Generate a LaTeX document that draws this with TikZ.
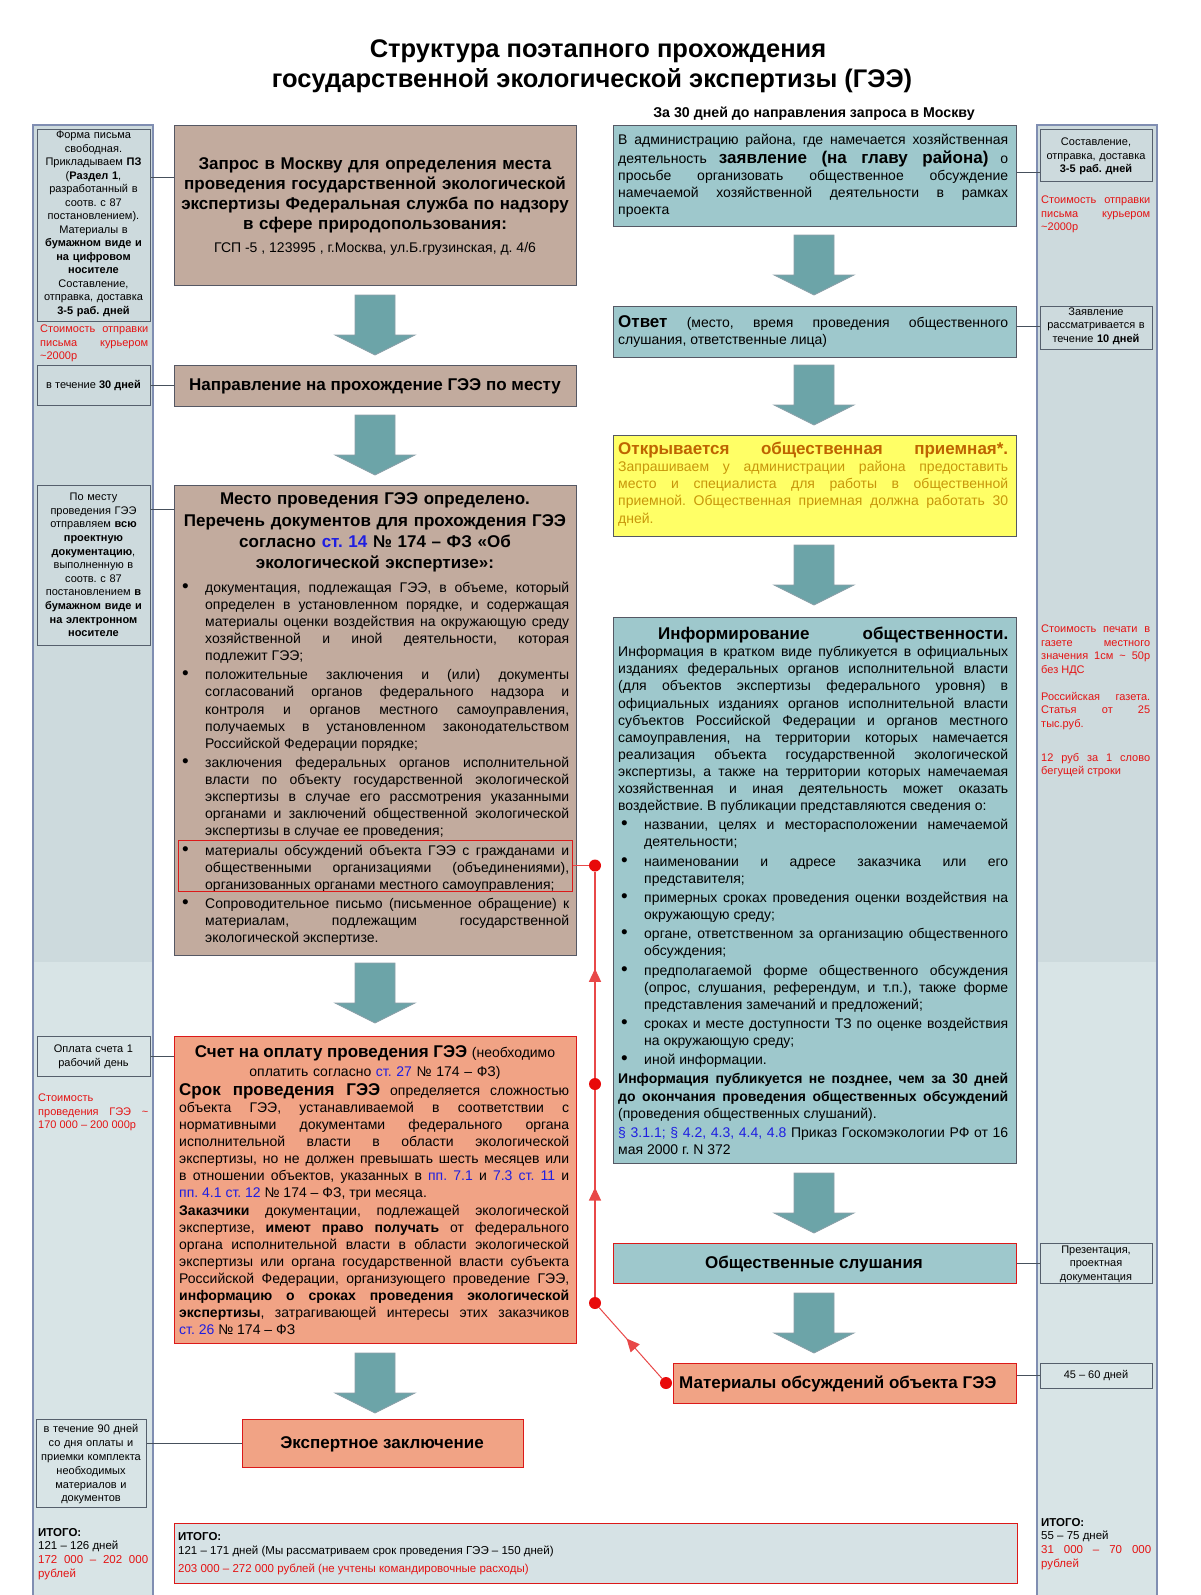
\documentclass[tikz,border=0pt]{standalone}
\usepackage{fontspec}
\setmainfont{Liberation Sans}
\usetikzlibrary{arrows.meta,decorations.markings}
\setlength{\parindent}{0pt}
\setlength{\parskip}{0pt}
\frenchspacing

\definecolor{brownC}{RGB}{194,171,158}
\definecolor{tealC}{RGB}{158,200,204}
\definecolor{salmonC}{RGB}{241,163,133}
\definecolor{yellowC}{RGB}{255,255,102}
\definecolor{sideAC}{RGB}{205,218,221}
\definecolor{sideBC}{RGB}{216,228,230}
\definecolor{sideEdgeC}{RGB}{128,142,178}
\definecolor{sboxEdgeC}{RGB}{85,95,108}
\definecolor{mainEdgeC}{RGB}{85,88,100}
\definecolor{redEdgeC}{RGB}{220,25,25}
\definecolor{arrFillC}{RGB}{108,164,168}
\definecolor{arrEdgeC}{RGB}{140,160,168}
\definecolor{connC}{RGB}{70,80,92}
\definecolor{rLineC}{RGB}{232,72,72}
\definecolor{rDotC}{RGB}{232,10,10}
\definecolor{costC}{RGB}{228,20,20}
\definecolor{linkC}{RGB}{30,30,225}
\definecolor{yTitleC}{RGB}{190,100,0}
\definecolor{yTextC}{RGB}{200,150,10}
\definecolor{itogoC}{RGB}{214,226,229}

\newcommand\fsbody{\fontsize{14}{17.1}\selectfont}
\newcommand\fsbig{\fontsize{17}{20}\selectfont}
\newcommand\fssm{\fontsize{11}{13.5}\selectfont}
\newcommand\lnk[1]{\textcolor{linkC}{#1}}
\newcommand\bigb[1]{{\fsbig\bfseries #1}}
\newcommand\bitm{\par\noindent\hangindent=26pt\hangafter=1\makebox[26pt][l]{\hspace{3pt}\scalebox{1.35}{\textbullet}}}
\newcommand\blockarr[2]{\path[bigarr] ({#1-20},{#2}) -- ({#1+20},{#2}) -- ({#1+20},{#2+40}) -- ({#1+40},{#2+40}) -- ({#1},{#2+60}) -- ({#1-40},{#2+40}) -- ({#1-20},{#2+40}) -- cycle;}

\tikzset{
  mainbx/.style={rectangle, inner sep=0pt, anchor=north west, line width=1pt},
  brownbx/.style={mainbx, fill=brownC, draw=mainEdgeC},
  tealbx/.style={mainbx, fill=tealC, draw=mainEdgeC},
  tealredbx/.style={mainbx, fill=tealC, draw=redEdgeC},
  salmonbx/.style={mainbx, fill=salmonC, draw=redEdgeC},
  yellowbx/.style={mainbx, fill=yellowC, draw=mainEdgeC},
  itogobx/.style={mainbx, fill=itogoC, draw=redEdgeC},
  sidebx/.style={rectangle, inner sep=0pt, anchor=north west, draw=sboxEdgeC, line width=0.8pt},
  sidetxt/.style={anchor=north, inner sep=0pt, align=center, font=\fssm},
  costtxt/.style={anchor=north west, inner sep=0pt, align=justify, font=\fssm, text=costC},
  bodytxt/.style={anchor=north west, inner sep=0pt, align=justify, font=\fsbody},
  centtxt/.style={anchor=north, inner sep=0pt, align=center},
  onel/.style={inner sep=0pt},
  connln/.style={draw=connC, line width=0.9pt},
  bigarr/.style={fill=arrFillC, draw=arrEdgeC, line width=0.8pt},
  rdot/.style={circle, fill=rDotC, inner sep=0pt, minimum size=12pt},
  rline/.style={draw=rLineC, line width=1.3pt},
  midarr/.style={postaction={decorate}, decoration={markings, mark=at position 0.5 with {\arrow[xshift=6pt]{Triangle[length=13pt,width=12pt]}}}}
}

\begin{document}
\begin{tikzpicture}[x=1pt,y=-1pt]
\useasboundingbox (0,0) rectangle (1200,1595);

% ---------- title ----------
\node[onel, anchor=base, font=\fontsize{25.5}{28}\selectfont\bfseries] (title1) at (598,57.5) {Структура поэтапного прохождения};
\node[onel, anchor=base, font=\fontsize{25.5}{28}\selectfont\bfseries] (title2) at (592,88) {государственной экологической экспертизы (ГЭЭ)};
\node[onel, anchor=base, font=\fontsize{14.2}{17}\selectfont\bfseries] (subt) at (814,117.5) {За 30 дней до направления запроса в Москву};

% ---------- side bars ----------
\fill[sideBC] (33,125) rectangle (153,1595);
\fill[sideAC] (33,125) rectangle (153,962);
\draw[sideEdgeC, line width=1.2pt] (33,1595) -- (33,125) -- (153,125) -- (153,1595);
\fill[sideBC] (1037,125) rectangle (1157,1595);
\fill[sideAC] (1037,125) rectangle (1157,962);
\draw[sideEdgeC, line width=1.2pt] (1037,1595) -- (1037,125) -- (1157,125) -- (1157,1595);

% ---------- left side boxes ----------
\node[sidebx, minimum width=113pt, minimum height=192pt] (L1) at (37,129) {};
\node[sidetxt, text width=113pt] (L1t) at (93.5,129.2) {\strut Форма письма\\ свободная.\\ Прикладываем \textbf{ПЗ}\\ (\textbf{Раздел 1},\\ разработанный в\\ соотв. с 87\\ постановлением).\\ Материалы в\\ \textbf{бумажном виде и}\\ \textbf{на цифровом}\\ \textbf{носителе}\\ Составление,\\ отправка, доставка\\ \textbf{3-5 раб. дней}};
\node[costtxt, text width=108pt] (L1c) at (40,323.2) {\strut Стоимость отправки\linebreak письма курьером\linebreak \textasciitilde2000р};

\node[sidebx, minimum width=113pt, minimum height=40pt] (L2) at (37,365) {};
\node[onel, anchor=base, font=\fssm] (L2t) at (93.5,388.6) {в течение \textbf{30 дней}};

\node[sidebx, minimum width=113pt, minimum height=160pt] (L3) at (37,485) {};
\node[sidetxt, text width=113pt, font=\fontsize{11}{13.6}\selectfont] (L3t) at (93.5,491) {\strut По месту\\ проведения ГЭЭ\\ отправляем \textbf{всю}\\ \textbf{проектную}\\ \textbf{документацию},\\ выполненную в\\ соотв. с 87\\ постановлением \textbf{в}\\ \textbf{бумажном виде и}\\ \textbf{на электронном}\\ \textbf{носителе}};

\node[sidebx, minimum width=113pt, minimum height=40pt] (L4) at (37,1036) {};
\node[sidetxt, text width=113pt] (L4t) at (93.5,1043.2) {\strut Оплата счета 1\\ рабочий день};
\node[costtxt, text width=110pt] (L4c) at (38,1092) {\strut Стоимость\newline проведения ГЭЭ \textasciitilde\linebreak 170 000 – 200 000р};

\node[sidebx, minimum width=110pt, minimum height=88pt] (L5) at (36,1419) {};
\node[sidetxt, text width=110pt, font=\fontsize{11}{13.8}\selectfont] (L5t) at (91,1423) {\strut в течение 90 дней\\ со дня оплаты и\\ приемки комплекта\\ необходимых\\ материалов и\\ документов};

\node[anchor=north west, inner sep=0pt, align=justify, text width=110pt, font=\fontsize{11.5}{13.7}\selectfont] (L6) at (38,1526.2) {\strut\textbf{ИТОГО:}\par 121 – 126 дней\par \textcolor{costC}{172 000 – 202 000\linebreak рублей}\par};

% ---------- right side boxes ----------
\node[sidebx, minimum width=112pt, minimum height=52pt] (R1) at (1040,129) {};
\node[sidetxt, text width=112pt] (R1t) at (1096,136.2) {\strut Составление,\\ отправка, доставка\\ \textbf{3-5 раб. дней}};
\node[costtxt, text width=109pt] (R1c) at (1041,194) {\strut Стоимость отправки\linebreak письма курьером\linebreak \textasciitilde2000р};

\node[sidebx, minimum width=112pt, minimum height=43pt] (R2) at (1040,306) {};
\node[sidetxt, text width=112pt] (R2t) at (1096,305.4) {\strut Заявление\\ рассматривается в\\ течение \textbf{10 дней}};

\node[costtxt, text width=109pt] (R2c) at (1041,623.2) {\strut Стоимость печати в\linebreak газете местного\linebreak значения 1см \textasciitilde{} 50р\linebreak без НДС\par\vspace{13.5pt}Российская газета.\linebreak Статья от 25\linebreak тыс.руб.\par\vspace{20.5pt}12 руб за 1 слово\linebreak бегущей строки\par};

\node[sidebx, minimum width=112pt, minimum height=40pt] (R3) at (1040,1243) {};
\node[sidetxt, text width=112pt] (R3t) at (1096,1243.4) {\strut Презентация,\\ проектная\\ документация};

\node[sidebx, minimum width=112pt, minimum height=25pt] (R4) at (1040,1363) {};
\node[onel, anchor=base, font=\fssm] (R4t) at (1096,1378.6) {45 – 60 дней};

\node[anchor=north west, inner sep=0pt, align=justify, text width=110pt, font=\fontsize{11.5}{13.7}\selectfont] (R6) at (1041,1516.2) {\strut\textbf{ИТОГО:}\par 55 – 75 дней\par \textcolor{costC}{31 000 – 70 000\linebreak рублей}\par};

% ---------- left main column ----------
\node[brownbx, minimum width=402pt, minimum height=160pt] (A) at (174,125) {};
\node[centtxt, text width=400pt, font=\fontsize{17}{20}\selectfont\bfseries] (At) at (375,155.6) {\strut Запрос в Москву для определения места\\ проведения государственной экологической\\ экспертизы Федеральная служба по надзору\\ в сфере природопользования:};
\node[onel, anchor=base, font=\fsbody] (Aa) at (375,252.6) {ГСП -5 , 123995 , г.Москва, ул.Б.грузинская, д. 4/6};

\node[brownbx, minimum width=402pt, minimum height=41pt] (B) at (174,365) {};
\node[onel, anchor=base, font=\fsbig\bfseries] (Bt) at (375,390.6) {Направление на прохождение ГЭЭ по месту};

\node[brownbx, minimum width=402pt, minimum height=470pt] (C) at (174,485) {};
\node[centtxt, text width=400pt, font=\fontsize{17}{21.3}\selectfont\bfseries] (Ct) at (375,489.7) {\strut Место проведения ГЭЭ определено.\\ Перечень документов для прохождения ГЭЭ\\ согласно \lnk{ст. 14} № 174 – ФЗ «Об\\ экологической экспертизе»:};
\node[bodytxt, text width=390pt] (Cb) at (179,572.6) {\setlength{\parskip}{2.2pt}%
\bitm\strut документация, подлежащая ГЭЭ, в объеме, который\linebreak определен в установленном порядке, и содержащая\linebreak материалы оценки воздействия на окружающую среду\linebreak хозяйственной и иной деятельности, которая\linebreak подлежит ГЭЭ;
\bitm положительные заключения и (или) документы\linebreak согласований органов федерального надзора и\linebreak контроля и органов местного самоуправления,\linebreak получаемых в установленном законодательством\linebreak Российской Федерации порядке;
\bitm заключения федеральных органов исполнительной\linebreak власти по объекту государственной экологической\linebreak экспертизы в случае его рассмотрения указанными\linebreak органами и заключений общественной экологической\linebreak экспертизы в случае ее проведения;
\bitm материалы обсуждений объекта ГЭЭ с гражданами и\linebreak общественными организациями (объединениями),\linebreak организованных органами местного самоуправления;
\bitm Сопроводительное письмо (письменное обращение) к\linebreak материалам, подлежащим государственной\linebreak экологической экспертизе.\par};
\node[draw=redEdgeC, line width=1pt, inner sep=0pt, anchor=north west, minimum width=394pt, minimum height=51pt] (C4box) at (178,840) {};

\node[salmonbx, minimum width=402pt, minimum height=307pt] (D) at (174,1036) {};
\node[centtxt, text width=395pt, font=\fontsize{14}{19}\selectfont] (Dt1) at (375,1044.3) {\strut{\fsbig\bfseries Счет на оплату проведения ГЭЭ} (необходимо\\ оплатить согласно \lnk{ст. 27} № 174 – ФЗ)};
\node[bodytxt, text width=390pt] (Dt2) at (179,1083.2) {\strut\bigb{Срок проведения ГЭЭ} определяется сложностью\linebreak объекта ГЭЭ, устанавливаемой в соответствии с\linebreak нормативными документами федерального органа\linebreak исполнительной власти в области экологической\linebreak экспертизы, но не должен превышать шесть месяцев или\linebreak в отношении объектов, указанных в \lnk{пп. 7.1} и \lnk{7.3 ст. 11} и\linebreak \lnk{пп. 4.1 ст. 12} № 174 – ФЗ, три месяца.\par
\textbf{Заказчики} документации, подлежащей экологической\linebreak экспертизе, \textbf{имеют право получать} от федерального\linebreak органа исполнительной власти в области экологической\linebreak экспертизы или органа государственной власти субъекта\linebreak Российской Федерации, организующего проведение ГЭЭ,\linebreak \textbf{информацию о сроках проведения экологической}\linebreak \textbf{экспертизы}, затрагивающей интересы этих заказчиков\linebreak \lnk{ст. 26} № 174 – ФЗ\par};

\node[salmonbx, minimum width=281pt, minimum height=48pt] (X) at (242,1419) {};
\node[onel, anchor=base, font=\fsbig\bfseries] (Xt) at (382,1448.6) {Экспертное заключение};

% ---------- right main column ----------
\node[tealbx, minimum width=403pt, minimum height=101pt] (E) at (613,125) {};
\node[bodytxt, text width=390pt] (Et) at (618,132.6) {\strut В администрацию района, где намечается хозяйственная\linebreak деятельность \bigb{заявление (на главу района)} о\linebreak просьбе организовать общественное обсуждение\linebreak намечаемой хозяйственной деятельности в рамках\linebreak проекта\par};

\node[tealbx, minimum width=403pt, minimum height=51pt] (F) at (613,306) {};
\node[bodytxt, text width=390pt] (Ft) at (618,315) {\strut\bigb{Ответ} (место, время проведения общественного\linebreak слушания, ответственные лица)\par};

\node[yellowbx, minimum width=403pt, minimum height=101pt] (Y) at (613,435) {};
\node[bodytxt, text width=390pt, text=yTextC] (Yt) at (618,442) {\strut{\fsbig\bfseries\color{yTitleC}Открывается общественная приемная*.}\linebreak Запрашиваем у администрации района предоставить\linebreak место и специалиста для работы в общественной\linebreak приемной. Общественная приемная должна работать 30\linebreak дней.\par};

\node[tealbx, minimum width=403pt, minimum height=546pt] (G) at (613,617) {};
\node[bodytxt, text width=390pt] (Gt) at (618,627) {\setlength{\parskip}{2.1pt}%
\strut\hspace*{40pt}\bigb{Информирование общественности.}\linebreak Информация в кратком виде публикуется в официальных\linebreak изданиях федеральных органов исполнительной власти\linebreak (для объектов экспертизы федерального уровня) в\linebreak официальных изданиях органов исполнительной власти\linebreak субъектов Российской Федерации и органов местного\linebreak самоуправления, на территории которых намечается\linebreak реализация объекта государственной экологической\linebreak экспертизы, а также на территории которых намечаемая\linebreak хозяйственная и иная деятельность может оказать\linebreak воздействие. В публикации представляются сведения о:
\bitm названии, целях и месторасположении намечаемой\linebreak деятельности;
\bitm наименовании и адресе заказчика или его\linebreak представителя;
\bitm примерных сроках проведения оценки воздействия на\linebreak окружающую среду;
\bitm органе, ответственном за организацию общественного\linebreak обсуждения;
\bitm предполагаемой форме общественного обсуждения\linebreak (опрос, слушания, референдум, и т.п.), также форме\linebreak представления замечаний и предложений;
\bitm сроках и месте доступности ТЗ по оценке воздействия\linebreak на окружающую среду;
\bitm иной информации.
\par\noindent\textbf{Информация публикуется не позднее, чем за 30 дней}\linebreak \textbf{до окончания проведения общественных обсуждений}\linebreak (проведения общественных слушаний).
\par\noindent\lnk{§ 3.1.1; § 4.2, 4.3, 4.4, 4.8} Приказ Госкомэкологии РФ от 16\linebreak мая 2000 г. N 372\par};

\node[tealredbx, minimum width=403pt, minimum height=40pt] (H) at (613,1243) {};
\node[onel, anchor=base, font=\fsbig\bfseries] (Ht) at (814,1268.6) {Общественные слушания};

\node[salmonbx, minimum width=343pt, minimum height=40pt] (I) at (673,1363) {};
\node[onel, anchor=base west, font=\fsbig\bfseries] (It) at (679,1388.6) {Материалы обсуждений объекта ГЭЭ};

% ---------- totals box ----------
\node[itogobx, minimum width=843pt, minimum height=60pt] (T) at (174,1523) {};
\node[onel, anchor=base west, font=\fontsize{11.5}{13}\selectfont\bfseries] (T1) at (178,1540) {ИТОГО:};
\node[onel, anchor=base west, font=\fontsize{11.5}{13}\selectfont] (T2) at (178,1554) {121 – 171 дней (Мы рассматриваем срок проведения ГЭЭ – 150 дней)};
\node[onel, anchor=base west, font=\fontsize{11.5}{13}\selectfont, text=costC] (T3) at (178,1572) {203 000 – 272 000 рублей (не учтены командировочные расходы)};

% ---------- block arrows ----------
\blockarr{375}{295}
\blockarr{375}{415}
\blockarr{375}{963}
\blockarr{375}{1353}
\blockarr{814}{235}
\blockarr{814}{365}
\blockarr{814}{545}
\blockarr{814}{1173}
\blockarr{814}{1293}

% ---------- thin connectors to side notes ----------
\draw[connln] (L1.east |- 0,177) -- (A.west |- 0,177);
\draw[connln] (L2.east) -- (L2.east -| B.west);
\draw[connln] (L3.east |- 0,509) -- (C.west |- 0,509);
\draw[connln] (L4.east) -- (L4.east -| D.west);
\draw[connln] (L5.east |- X.west) -- (X.west);
\draw[connln] (E.east |- 0,172) -- (R1.west |- 0,172);
\draw[connln] (F.east |- 0,326) -- (R2.west |- 0,326);
\draw[connln] (H.east) -- (H.east -| R3.west);
\draw[connln] (I.east |- 0,1375) -- (R4.west |- 0,1375);

% ---------- red feedback line ----------
\node[rdot] (d1) at (595,865.5) {};
\node[rdot] (d2) at (595,1084) {};
\node[rdot] (d3) at (595,1303) {};
\node[rdot] (d4) at (666,1383) {};
\draw[rline] (C4box.east |- d1) -- (d1);
\draw[rline, midarr] (d2) -- (d1);
\draw[rline, midarr] (d3) -- (d2);
\draw[rline, line width=1pt, midarr] (d4) -- (d3);
\end{tikzpicture}
\end{document}
